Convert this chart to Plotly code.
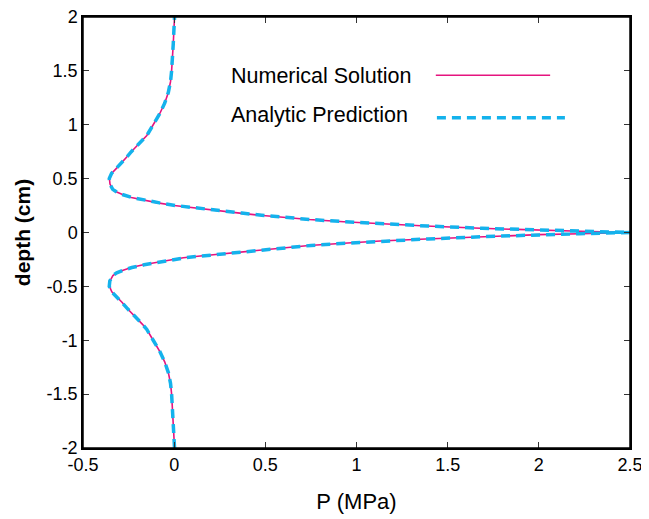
import plotly.graph_objects as go

# depth (cm), upper half; mirrored for lower half
depth_half = [0.0, 0.011, 0.02, 0.039, 0.06, 0.079, 0.1, 0.12, 0.141, 0.16, 0.18, 0.2, 0.22, 0.234,
              0.25, 0.275, 0.3, 0.325, 0.35, 0.375, 0.4, 0.45, 0.5, 0.55, 0.6, 0.65, 0.7, 0.75,
              0.8, 0.85, 0.9, 1.0, 1.1, 1.2, 1.3, 1.4, 1.5, 1.75, 2.0]
p_numerical_half = [2.5, 2.23, 2.0, 1.68, 1.38, 1.13, 0.93, 0.74, 0.58, 0.47, 0.36, 0.25, 0.13, 0.05,
                    0.0, -0.09, -0.17, -0.235, -0.28, -0.315, -0.336, -0.352, -0.355, -0.342, -0.314,
                    -0.285, -0.26, -0.235, -0.205, -0.175, -0.15, -0.115, -0.08, -0.052, -0.032,
                    -0.02, -0.014, -0.005, 0.002]
p_analytic_half = [2.5, 2.22, 2.0, 1.69, 1.39, 1.14, 0.94, 0.75, 0.59, 0.48, 0.37, 0.26, 0.14, 0.06,
                   0.01, -0.08, -0.165, -0.232, -0.28, -0.315, -0.337, -0.353, -0.356, -0.343, -0.315,
                   -0.286, -0.26, -0.235, -0.205, -0.175, -0.15, -0.115, -0.08, -0.052, -0.032,
                   -0.02, -0.014, -0.005, 0.002]

depth = [-d for d in depth_half[::-1]] + depth_half[1:]
p_num = p_numerical_half[::-1] + p_numerical_half[1:]
p_ana = p_analytic_half[::-1] + p_analytic_half[1:]

x_ticks = [-0.5, 0, 0.5, 1, 1.5, 2, 2.5]
x_labels = ["-0.5", "0", "0.5", "1", "1.5", "2", "2.5"]
y_ticks = [-2, -1.5, -1, -0.5, 0, 0.5, 1, 1.5, 2]
y_labels = ["-2", "-1.5", "-1", "-0.5", "0", "0.5", "1", "1.5", "2"]

pink = "#E5147F"
cyan = "#14B2EC"
font = "Liberation Sans, Arial, sans-serif"

fig = go.Figure()
fig.add_trace(go.Scatter(x=p_num, y=depth, mode="lines", name="Numerical Solution",
                         line=dict(color=pink, width=1.6), showlegend=False))
fig.add_trace(go.Scatter(x=p_ana, y=depth, mode="lines", name="Analytic Prediction",
                         line=dict(color=cyan, width=3.5, dash="9px,6px"), showlegend=False))

# legend drawn as text + sample lines (text on the left, line on the right)
fig.add_annotation(xref="paper", yref="paper", x=0.266, y=0.863, text="Numerical Solution",
                   showarrow=False, xanchor="left", yanchor="middle",
                   font=dict(family=font, size=21.5, color="black"))
fig.add_annotation(xref="paper", yref="paper", x=0.266, y=0.773, text="Analytic Prediction",
                   showarrow=False, xanchor="left", yanchor="middle",
                   font=dict(family=font, size=21.5, color="black"))
fig.add_shape(type="line", xref="paper", yref="paper", x0=0.645, x1=0.854, y0=0.865, y1=0.865,
              line=dict(color=pink, width=1.6))
fig.add_shape(type="line", xref="paper", yref="paper", x0=0.647, x1=0.881, y0=0.766, y1=0.766,
              line=dict(color=cyan, width=3.5, dash="9px,6px"))
# plot frame
fig.add_shape(type="rect", xref="paper", yref="paper", x0=0, x1=1, y0=0, y1=1,
              line=dict(color="black", width=1.5), layer="above")

axis_common = dict(showgrid=False, zeroline=False, showline=True, linecolor="black", linewidth=1.5,
                   mirror="ticks", ticks="inside", ticklen=6, tickcolor="#333", tickwidth=1,
                   automargin=False, ticklabeloverflow="allow",
                   tickfont=dict(family=font, size=18, color="black"))
fig.update_xaxes(range=[-0.5, 2.5], tickvals=x_ticks, ticktext=x_labels,
                 title=dict(text="P (MPa)", font=dict(family=font, size=22, color="black"), standoff=19),
                 **axis_common)
fig.update_yaxes(range=[-2, 2], tickvals=y_ticks, ticktext=y_labels,
                 title=dict(text="<b>depth (cm)</b>", font=dict(family=font, size=21, color="black"), standoff=10),
                 **axis_common)
# page body has an 8px margin, so the figure is sized/offset to land the plot area on the reference
fig.update_layout(width=641, height=511, margin=dict(l=75, r=19, t=9, b=71),
                  plot_bgcolor="white", paper_bgcolor="white")
fig.write_html("out.html")
